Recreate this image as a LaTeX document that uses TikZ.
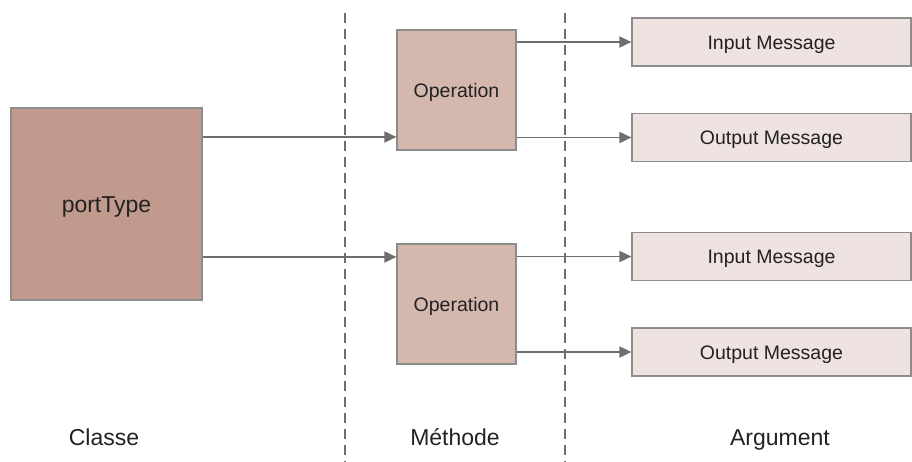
\documentclass[tikz,border=0pt]{standalone}
\usepackage{fontspec}
\setmainfont{Liberation Sans}
\usetikzlibrary{arrows.meta}
\definecolor{ptfill}{HTML}{C19A8D}
\definecolor{opfill}{HTML}{D4B7AD}
\definecolor{msgfill}{HTML}{EEE3E0}
\definecolor{bordergray}{HTML}{8C8C8C}
\definecolor{linegray}{HTML}{6E6E6E}
\definecolor{txt}{HTML}{222222}
\tikzset{
  smalltext/.style={font=\fontsize{19.5}{23}\selectfont, text height=14pt, text depth=0pt},
  bigtext/.style={font=\fontsize{23}{27}\selectfont, text height=16.5pt, text depth=0pt},
  box/.style={draw=bordergray, line width=1.2pt, text=txt, inner sep=0pt},
  ptbox/.style={box, fill=ptfill, minimum width=191pt, minimum height=192pt, bigtext},
  opbox/.style={box, fill=opfill, minimum width=119pt, minimum height=120pt, smalltext},
  msgbox/.style={box, fill=msgfill, minimum width=279pt, minimum height=48pt, smalltext},
  conn/.style={draw=linegray, line width=1.8pt, -{Triangle[length=12pt,width=11pt]}},
  divider/.style={draw=linegray, line width=1.6pt, dash pattern=on 10pt off 6pt},
  collabel/.style={text=txt, inner sep=0pt, bigtext}
}
\begin{document}
\begin{tikzpicture}[x=1pt,y=-1pt]
\useasboundingbox (0,0) rectangle (912,461);
% dividers
\coordinate (d1t) at (345,13); \coordinate (d1b) at (345,463);
\coordinate (d2t) at (565,13); \coordinate (d2b) at (565,463);
\draw[divider] (d1t) -- (d1b);
\draw[divider] (d2t) -- (d2b);
% nodes
\node[ptbox] (pt) at (106.5,204) {portType};
\node[opbox] (op1) at (456.5,90) {Operation};
\node[opbox] (op2) at (456.5,304) {Operation};
\node[msgbox] (in1) at (771.5,42) {Input Message};
\node[msgbox] (out1) at (771.5,137.5) {Output Message};
\node[msgbox] (in2) at (771.5,256.5) {Input Message};
\node[msgbox] (out2) at (771.5,352) {Output Message};
% connectors
\draw[conn] (pt.east |- 0,137) -- (op1.west |- 0,137);
\draw[conn] (pt.east |- 0,257) -- (op2.west |- 0,257);
\draw[conn] (op1.east |- in1.west) -- (in1.west);
\draw[conn] (op1.east |- out1.west) -- (out1.west);
\draw[conn] (op2.east |- in2.west) -- (in2.west);
\draw[conn] (op2.east |- out2.west) -- (out2.west);
% column labels
\node[collabel] (lc) at (104,437) {Classe};
\node[collabel] (lm) at (455,437) {Méthode};
\node[collabel] (la) at (780,437) {Argument};
\end{tikzpicture}
\end{document}
